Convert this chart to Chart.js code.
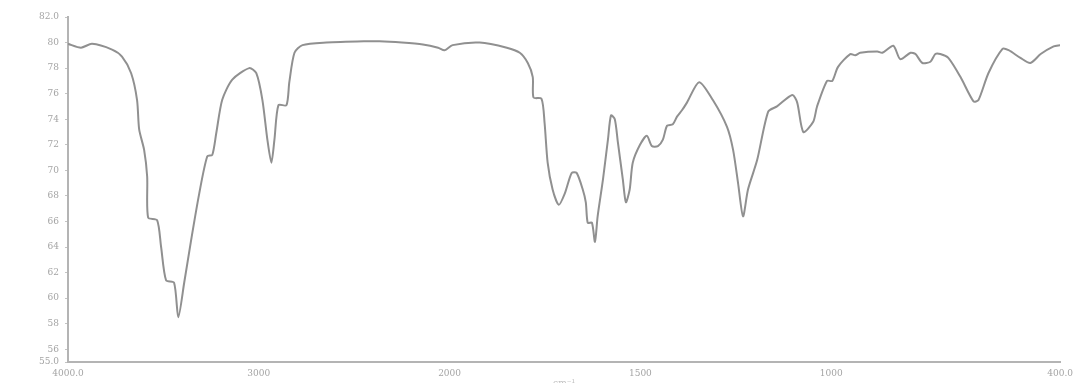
<!DOCTYPE html>
<html>
<head>
<meta charset="utf-8">
<title>IR spectrum</title>
<script src="https://cdn.jsdelivr.net/npm/chart.js@4.4.1/dist/chart.umd.min.js"></script>
<style>
  html, body { margin: 0; padding: 0; background: #fff; }
  #wrap { width: 1079px; height: 383px; }
</style>
</head>
<body>
<div id="wrap"><canvas id="irChart" width="1079" height="383"></canvas></div>
<script>
// wavenumbers (cm-1) and transmittance (%T)
const wavenumbers = [
  4000, 3932, 3874, 3769, 3717, 3669, 3638, 3627, 3601, 3585, 3580, 3533, 3512, 3486, 3444, 3422,
  3391, 3354, 3312, 3270, 3244, 3223, 3192, 3139, 3050, 3013, 2981, 2955, 2934, 2918, 2897, 2855,
  2840, 2813, 2771, 2646, 2450, 2367, 2250, 2140, 2060, 2026, 1992, 1921, 1850, 1816, 1795, 1782,
  1780, 1759, 1751, 1743, 1730, 1714, 1698, 1680, 1667, 1651, 1643, 1638, 1627, 1619, 1612, 1598,
  1585, 1577, 1567, 1559, 1546, 1538, 1528, 1520, 1501, 1483, 1470, 1454, 1441, 1430, 1415, 1404,
  1391, 1378, 1346, 1310, 1273, 1257, 1244, 1231, 1218, 1194, 1165, 1142, 1102, 1089, 1073, 1047,
  1037, 1011, 997, 982, 950, 937, 924, 879, 866, 837, 819, 792, 779, 761, 740, 727,
  714, 693, 661, 627, 614, 588, 551, 535, 504, 478, 451, 417, 400
];
const transmittance = [
  79.9, 79.6, 79.9, 79.45, 78.9, 77.6, 75.5, 73.2, 71.6, 69.5, 66.3, 66.1, 64.0, 61.4, 61.2, 58.5,
  61.2, 64.6, 68.2, 71.1, 71.2, 72.9, 75.5, 77.1, 78.0, 77.6, 75.5, 72.4, 70.6, 72.4, 75.1, 75.1,
  76.9, 79.2, 79.8, 80.0, 80.1, 80.1, 80.0, 79.85, 79.6, 79.4, 79.8, 80.0, 79.6, 79.2, 78.4, 77.3,
  75.7, 75.6, 73.7, 70.6, 68.5, 67.3, 68.2, 69.8, 69.8, 68.5, 67.5, 65.9, 65.9, 64.4, 66.4, 69.3,
  72.4, 74.3, 74.0, 72.2, 69.3, 67.5, 68.5, 70.6, 72.0, 72.7, 71.9, 71.9, 72.4, 73.5, 73.6, 74.2,
  74.7, 75.3, 76.9, 75.5, 73.4, 71.6, 69.0, 66.4, 68.5, 70.8, 74.6, 75.0, 75.9, 75.3, 73.0, 73.8,
  75.0, 77.0, 77.0, 78.1, 79.1, 79.0, 79.2, 79.3, 79.2, 79.75, 78.7, 79.2, 79.1, 78.4, 78.5, 79.1,
  79.1, 78.8, 77.3, 75.4, 75.5, 77.6, 79.5, 79.4, 78.8, 78.4, 79.1, 79.7, 79.8
];
const xTicks = [4000, 3000, 2000, 1500, 1000, 400];
const yTicks = [55, 56, 58, 60, 62, 64, 66, 68, 70, 72, 74, 76, 78, 80, 82];

// FTIR-style axis: scale doubles below 2000 cm-1
class IrScale extends Chart.LinearScale {
  dist(v) {
    return v >= 2000 ? (4000 - v) : 2000 + (2000 - v) * 2;
  }
  getPixelForValue(v) {
    const total = this.dist(400);
    return this.left + this.dist(v) / total * this.width;
  }
  getValueForPixel(p) {
    const d = (p - this.left) / this.width * this.dist(400);
    return d <= 2000 ? 4000 - d : 2000 - (d - 2000) / 2;
  }
}
IrScale.id = 'irscale';
IrScale.defaults = Chart.LinearScale.defaults;
Chart.register(IrScale);

const points = wavenumbers.map((w, i) => ({ x: w, y: transmittance[i] }));
const grey = '#a4a4a4';
const tickFont = { family: '"DejaVu Serif", "Liberation Serif", serif', size: 9 };

new Chart(document.getElementById('irChart'), {
  type: 'line',
  data: {
    datasets: [{
      data: points,
      borderColor: '#909090',
      borderWidth: 2,
      pointRadius: 0,
      tension: 0.25,
      fill: false
    }]
  },
  options: {
    responsive: false,
    animation: false,
    layout: { padding: { top: 17, right: 17, left: 0, bottom: 0 } },
    plugins: { legend: { display: false }, tooltip: { enabled: false } },
    scales: {
      x: {
        type: 'irscale',
        min: 400,
        max: 4000,
        afterBuildTicks: (s) => { s.ticks = xTicks.map(v => ({ value: v })); },
        afterFit: (s) => { s.height = 21; },
        ticks: {
          color: grey,
          font: tickFont,
          padding: 6,
          maxRotation: 0,
          autoSkip: false,
          callback: (v) => (v === 4000 || v === 400) ? v.toFixed(1) : String(v)
        },
        grid: { display: false, drawTicks: false },
        border: { color: '#b4b4b4', width: 2 },
        title: {
          display: true,
          text: 'cm\u207B\u00B9',
          color: '#c0c0c0',
          font: { family: '"DejaVu Serif", serif', size: 9 },
          padding: { top: 0, bottom: -6 }
        }
      },
      y: {
        min: 55,
        max: 82,
        afterBuildTicks: (s) => { s.ticks = yTicks.map(v => ({ value: v })); },
        afterFit: (s) => { s.width = 68; },
        ticks: {
          color: grey,
          font: tickFont,
          padding: 6,
          autoSkip: false,
          callback: (v) => (v === 55 || v === 82) ? v.toFixed(1) : String(v)
        },
        grid: { display: true, drawOnChartArea: false, tickLength: 3, color: '#c4c4c4' },
        border: { color: '#b4b4b4', width: 2 }
      }
    }
  }
});
</script>
</body>
</html>
